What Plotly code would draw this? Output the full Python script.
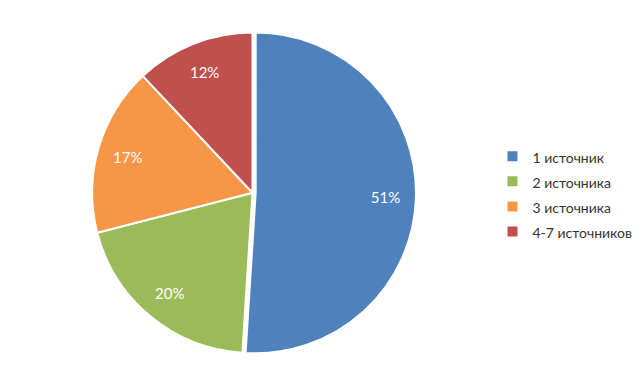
import plotly.graph_objects as go

labels = ["1 источник", "2 источника", "3 источника", "4-7 источников"]
values = [51, 20, 17, 12]
colors = ["#4F81BD", "#9BBB59", "#F79646", "#C0504D"]
pulls = [0.02, 0, 0, 0]

domain = dict(x=[0.1265, 0.6375], y=[0.1, 0.945])
legend_labels = ['<span style="font-size:14px">%s</span>' % l for l in labels]

fig = go.Figure()
fig.add_trace(go.Pie(
    labels=legend_labels, values=values, sort=False, direction="clockwise", rotation=0,
    pull=pulls,
    marker=dict(colors=colors, line=dict(color="white", width=2)),
    textinfo="none", hoverinfo="label+percent",
    domain=domain,
))
# transparent ring carrying the percentage labels
fig.add_trace(go.Pie(
    labels=legend_labels, values=values, sort=False, direction="clockwise", rotation=0,
    pull=pulls, hole=0.62, showlegend=False,
    marker=dict(colors=["rgba(0,0,0,0)"] * len(values), line=dict(width=0)),
    textinfo="percent", textposition="inside", insidetextorientation="horizontal",
    textfont=dict(color="white", size=15, family="Lato"),
    hoverinfo="skip",
    domain=domain,
))
fig.update_layout(
    width=640, height=387, margin=dict(l=0, r=0, t=0, b=0),
    paper_bgcolor="white",
    font=dict(family="Lato", size=14, color="#333333"),
    legend=dict(x=0.757, y=0.519, yanchor="middle", xanchor="left", itemwidth=30,
                font=dict(size=17, color="#333333")),
)
fig.write_html("out.html")
